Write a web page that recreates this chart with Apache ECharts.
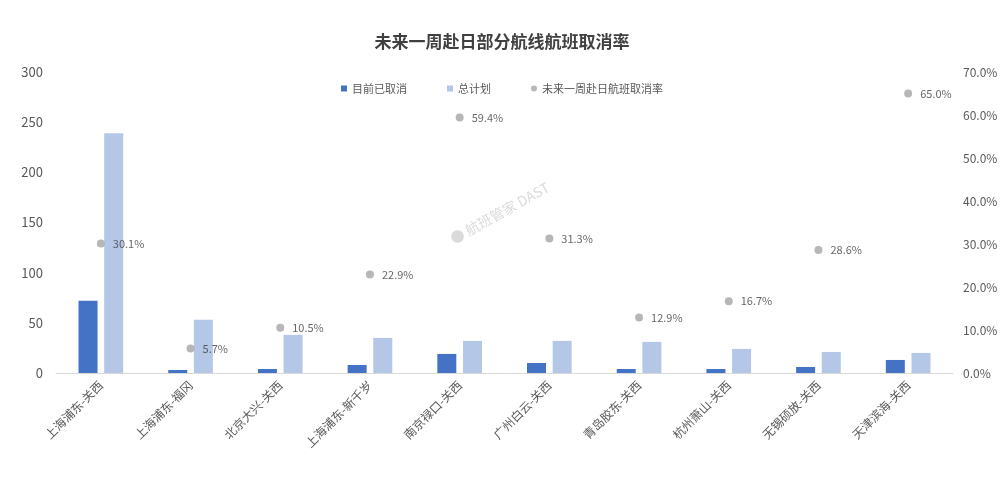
<!DOCTYPE html>
<html><head><meta charset="utf-8">
<script src="https://cdn.jsdelivr.net/npm/echarts@6/dist/echarts.min.js"></script>
<style>html,body{margin:0;padding:0;background:#fff}#c{width:1004px;height:481px}</style>
</head><body><div id="c"></div>
<script>
const categories = ['上海浦东-关西','上海浦东-福冈','北京大兴-关西','上海浦东-新千岁','南京禄口-关西','广州白云-关西','青岛胶东-关西','杭州萧山-关西','无锡硕放-关西','天津滨海-关西'];
const cancelled = [72, 3, 4, 8, 19, 10, 4, 4, 6, 13];
const planned = [239, 53, 38, 35, 32, 32, 31, 24, 21, 20];
const rate = [30.1, 5.7, 10.5, 22.9, 59.4, 31.3, 12.9, 16.7, 28.6, 65.0];
const leftTicks = [0, 50, 100, 150, 200, 250, 300];
const rightTicks = [0, 10, 20, 30, 40, 50, 60, 70];

const chart = echarts.init(document.getElementById('c'));
const font = '"Noto Sans CJK SC", "Noto Sans", sans-serif';
chart.setOption({
  textStyle: { fontFamily: font },
  title: { text: '未来一周赴日部分航线航班取消率', left: 'center', top: 28,
    textStyle: { fontSize: 17, fontWeight: 'bold', color: '#404040', fontFamily: font } },
  legend: { top: 78, left: 'center', itemWidth: 6, itemHeight: 6, itemGap: 40,
    textStyle: { fontSize: 11, color: '#595959' },
    data: [{ name: '目前已取消', icon: 'rect' }, { name: '总计划', icon: 'rect' }, { name: '未来一周赴日航班取消率', icon: 'circle' }] },
  graphic: [{ type: 'text', left: 448, top: 180, rotation: Math.PI / 6.2,
    style: { text: '● 航班管家 DAST', fill: 'rgba(150,150,150,0.35)', font: '14px ' + font } }],
  grid: { left: 56, right: 51, top: 72, bottom: 108 },
  xAxis: { type: 'category', data: categories,
    axisLine: { lineStyle: { color: '#d9d9d9' } }, axisTick: { show: false },
    axisLabel: { rotate: 45, color: '#595959', fontSize: 12, interval: 0, margin: 10 } },
  yAxis: [
    { type: 'value', min: leftTicks[0], max: leftTicks[leftTicks.length - 1], interval: 50,
      splitLine: { show: false }, axisLine: { show: false }, axisTick: { show: false },
      axisLabel: { color: '#595959', fontSize: 13, margin: 13 } },
    { type: 'value', min: rightTicks[0], max: rightTicks[rightTicks.length - 1], interval: 10,
      splitLine: { show: false }, axisLine: { show: false }, axisTick: { show: false },
      axisLabel: { color: '#595959', fontSize: 12, margin: 10, formatter: v => v.toFixed(1) + '%' } }
  ],
  series: [
    { name: '目前已取消', type: 'bar', data: cancelled, barWidth: 19, barGap: '35%',
      itemStyle: { color: '#4472C4' } },
    { name: '总计划', type: 'bar', data: planned, barWidth: 19,
      itemStyle: { color: '#B4C7E7' } },
    { name: '未来一周赴日航班取消率', type: 'scatter', yAxisIndex: 1, data: rate, symbolSize: 8,
      itemStyle: { color: '#A5A5A5' },
      label: { show: true, position: 'right', distance: 8, color: '#404040', fontSize: 11,
        formatter: p => p.value.toFixed(1) + '%' } }
  ]
});
</script></body></html>
